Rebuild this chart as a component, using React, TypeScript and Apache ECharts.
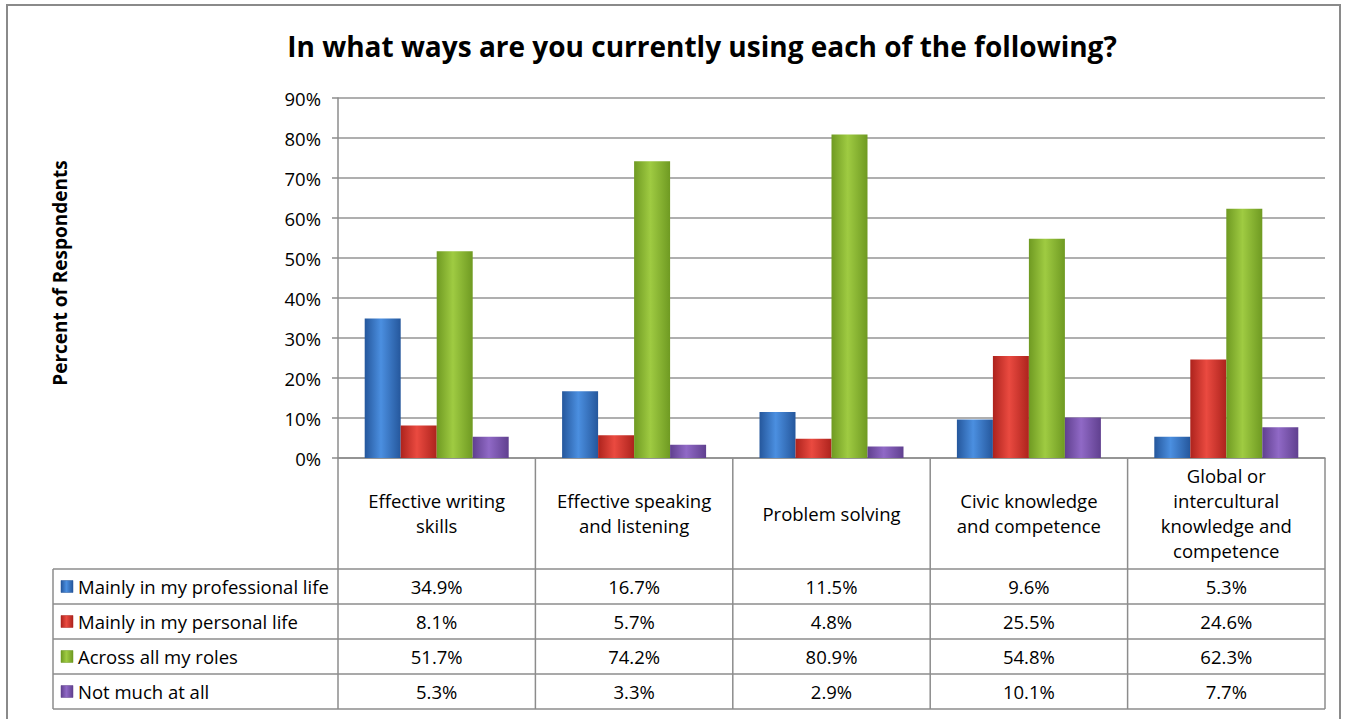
import React, { useEffect, useRef } from "react";
import * as echarts from "echarts";

const title = "In what ways are you currently using each of the following?";
const yAxisTitle = "Percent of Respondents";
const categories = [
  "Effective writing\nskills",
  "Effective speaking\nand listening",
  "Problem solving",
  "Civic knowledge\nand competence",
  "Global or\nintercultural\nknowledge and\ncompetence",
];
const seriesNames = [
  "Mainly in my professional life",
  "Mainly in my personal life",
  "Across all my roles",
  "Not much at all",
];
const professional = [34.9, 16.7, 11.5, 9.6, 5.3];
const personal = [8.1, 5.7, 4.8, 25.5, 24.6];
const allRoles = [51.7, 74.2, 80.9, 54.8, 62.3];
const notMuch = [5.3, 3.3, 2.9, 10.1, 7.7];
const yMax = 90;
const yInterval = 10;

const seriesValues = [professional, personal, allRoles, notMuch];
const palette = [
  { dark: "#25579c", light: "#4b8fe0" },
  { dark: "#ad231d", light: "#ea4a40" },
  { dark: "#6f9a22", light: "#9fcb42" },
  { dark: "#60408f", light: "#9069c6" },
];

const FONT = "'Open Sans', 'Noto Sans', sans-serif";
const GRID_L = 338;
const GRID_R = 1325;
const GRID_T = 98;
const GRID_B = 458;
const TABLE_L = 53;
const CAT_BOTTOM = 569;
const ROW_H = 35;
const LINE = "#8c8c8c";

function grad(i: number) {
  const c = palette[i];
  return new echarts.graphic.LinearGradient(0, 0, 1, 0, [
    { offset: 0, color: c.dark },
    { offset: 0.45, color: c.light },
    { offset: 1, color: c.dark },
  ]);
}

export default function App() {
  const ref = useRef<HTMLDivElement>(null);
  useEffect(() => {
    if (!ref.current) return;
    const chart = echarts.init(ref.current, undefined, { renderer: "svg" });
    const nCat = categories.length;
    const colW = (GRID_R - GRID_L) / nCat;
    const tableBottom = CAT_BOTTOM + ROW_H * seriesNames.length;

    const graphics: any[] = [];
    graphics.push({
      type: "rect",
      shape: { x: 7, y: 5, width: 1333, height: 730 },
      style: { fill: "none", stroke: "#8a8a8a", lineWidth: 2 },
      silent: true,
    });
    graphics.push({
      type: "text",
      x: 702,
      y: 46,
      style: {
        text: title,
        font: `bold 28px ${FONT}`,
        fill: "#000",
        align: "center",
        verticalAlign: "middle",
      },
    });
    graphics.push({
      type: "text",
      x: 60,
      y: 273,
      rotation: Math.PI / 2,
      style: {
        text: yAxisTitle,
        font: `bold 19px ${FONT}`,
        fill: "#000",
        align: "center",
        verticalAlign: "middle",
      },
    });
    for (let i = 0; i <= nCat; i++) {
      const x = GRID_L + i * colW;
      graphics.push({
        type: "line",
        shape: { x1: x, y1: GRID_B, x2: x, y2: tableBottom },
        style: { stroke: LINE, lineWidth: 1.5 },
        silent: true,
      });
    }
    graphics.push({
      type: "line",
      shape: { x1: TABLE_L, y1: CAT_BOTTOM, x2: TABLE_L, y2: tableBottom },
      style: { stroke: LINE, lineWidth: 1.5 },
      silent: true,
    });
    for (let r = 0; r <= seriesNames.length; r++) {
      const y = CAT_BOTTOM + r * ROW_H;
      graphics.push({
        type: "line",
        shape: { x1: TABLE_L, y1: y, x2: GRID_R, y2: y },
        style: { stroke: LINE, lineWidth: 1.5 },
        silent: true,
      });
    }
    seriesNames.forEach((name, r) => {
      const cy = CAT_BOTTOM + r * ROW_H + ROW_H / 2;
      graphics.push({
        type: "rect",
        shape: { x: 61, y: cy - 6, width: 12, height: 12 },
        style: { fill: grad(r), stroke: palette[r].dark, lineWidth: 0.5 },
        silent: true,
      });
      graphics.push({
        type: "text",
        x: 78,
        y: cy,
        style: {
          text: name,
          font: `18.5px ${FONT}`,
          fill: "#000",
          align: "left",
          verticalAlign: "middle",
        },
      });
      seriesValues[r].forEach((v, c) => {
        graphics.push({
          type: "text",
          x: GRID_L + colW * (c + 0.5),
          y: cy,
          style: {
            text: v.toFixed(1) + "%",
            font: `18.5px ${FONT}`,
            fill: "#000",
            align: "center",
            verticalAlign: "middle",
          },
        });
      });
    });

    chart.setOption({
      animation: false,
      grid: {
        left: GRID_L,
        right: 1355 - GRID_R,
        top: GRID_T,
        bottom: 719 - GRID_B,
        containLabel: false,
      },
      xAxis: {
        type: "category",
        data: categories,
        axisLine: { show: true, lineStyle: { color: LINE, width: 1.5 } },
        axisTick: { show: false },
        splitLine: { show: false },
        axisLabel: {
          interval: 0,
          margin: 55,
          verticalAlign: "middle",
          color: "#000",
          fontFamily: FONT,
          fontSize: 18.5,
          lineHeight: 25,
        },
      },
      yAxis: {
        type: "value",
        min: 0,
        max: yMax,
        interval: yInterval,
        axisLine: { show: true, lineStyle: { color: LINE, width: 1.5 } },
        axisTick: { show: true, length: 6, lineStyle: { color: LINE, width: 1.5 } },
        splitLine: { show: true, lineStyle: { color: "#949494", width: 1.5 } },
        axisLabel: {
          formatter: "{value}%",
          color: "#000",
          fontFamily: FONT,
          fontSize: 18.5,
          margin: 17,
        },
      },
      series: seriesNames.map((name, i) => ({
        name,
        type: "bar",
        data: seriesValues[i],
        barWidth: 36,
        barGap: "0%",
        itemStyle: { color: grad(i) },
        emphasis: { disabled: true },
      })),
      graphic: graphics,
    });
    return () => chart.dispose();
  }, []);
  return (
    <div
      ref={ref}
      style={{
        position: "fixed",
        left: 0,
        top: 0,
        width: 1355,
        height: 719,
        background: "#fff",
      }}
    />
  );
}
